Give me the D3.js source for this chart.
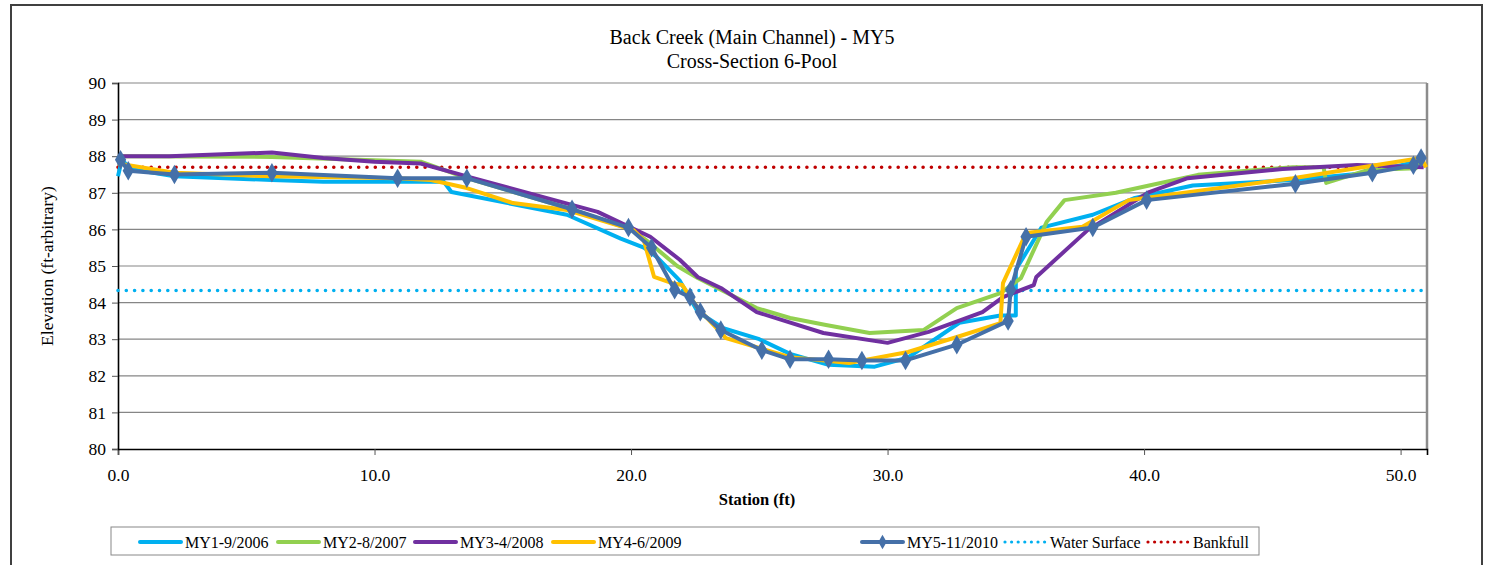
<!DOCTYPE html>
<html lang="en">
<head>
<meta charset="UTF-8">
<title>Back Creek Cross-Section 6</title>
<script src="https://d3js.org/d3.v7.min.js"></script>
<style>
  body { margin: 0; background: #fff; }
</style>
</head>
<body>
<svg id="chart"></svg>
<script>
  // Station (ft) / elevation pairs
  const my1 = [[0,87.45],[0.15,87.9],[0.5,87.65],[2.2,87.45],[6,87.35],[8,87.3],[12.7,87.3],[13.0,87.02],[17.5,86.4],[19.6,85.75],[20.5,85.5],[21.0,85.25],[21.9,84.6],[22.6,83.75],[23.6,83.3],[25.0,83.0],[26.2,82.6],[27.7,82.3],[29.5,82.25],[30.8,82.5],[32.8,83.45],[34.4,83.65],[35.0,83.65],[35.0,84.9],[36.0,86.05],[38.0,86.4],[39.6,86.85],[41.9,87.2],[45.8,87.35],[48.8,87.55],[50.6,87.85]];
  const my2 = [[0,88.0],[6,87.98],[11.8,87.85],[13.6,87.4],[17.7,86.55],[20.0,86.0],[20.6,85.7],[21.8,85.0],[22.6,84.67],[24.9,83.85],[26.2,83.58],[27.6,83.39],[29.3,83.17],[31.4,83.25],[32.7,83.85],[34.4,84.26],[35.2,84.67],[36.2,86.2],[36.9,86.8],[38.9,87.0],[40.2,87.2],[42.1,87.49],[45.8,87.7],[47.0,87.7],[47.1,87.27],[48.7,87.62],[50.6,87.67],[50.8,87.9]];
  const my3 = [[0,88.0],[2,88.0],[6,88.1],[8,87.95],[10,87.85],[11.8,87.8],[13.6,87.45],[18.7,86.48],[20.75,85.8],[21.9,85.17],[22.6,84.7],[23.5,84.4],[24.9,83.74],[27.5,83.17],[30.0,82.9],[31.6,83.2],[33.7,83.74],[34.5,84.15],[35.7,84.48],[35.8,84.7],[37.8,85.98],[40.2,87.02],[41.7,87.4],[45.4,87.65],[48.3,87.76],[50.9,87.7]];
  const my4 = [[0,87.8],[2.2,87.55],[6,87.45],[10.9,87.4],[12.2,87.35],[13.6,87.13],[15.4,86.72],[17.5,86.53],[20.1,85.98],[20.5,85.7],[20.9,84.7],[21.6,84.53],[22.0,84.48],[22.6,83.85],[23.7,83.03],[26.2,82.51],[28.5,82.35],[30.8,82.65],[32.8,83.08],[34.4,83.44],[34.5,84.53],[35.4,85.9],[37.6,86.07],[39.4,86.8],[45.8,87.4],[50.8,87.95],[51.0,87.7]];
  const my5 = [[0.1,87.9],[0.4,87.6],[2.2,87.5],[6.0,87.55],[10.9,87.4],[13.6,87.4],[17.7,86.55],[19.9,86.05],[20.8,85.5],[21.7,84.35],[22.3,84.15],[22.7,83.75],[23.5,83.25],[25.1,82.7],[26.2,82.45],[27.7,82.45],[29.0,82.42],[30.7,82.42],[32.7,82.85],[34.7,83.5],[34.8,84.35],[35.4,85.8],[38.0,86.05],[40.1,86.8],[45.9,87.25],[48.9,87.55],[50.5,87.75],[50.8,87.95]];
  const waterSurface = 84.33;
  const bankfull = 87.7;

  const seriesNames = ["MY1-9/2006", "MY2-8/2007", "MY3-4/2008", "MY4-6/2009", "MY5-11/2010", "Water Surface", "Bankfull"];
  const seriesColors = ["#00b0f0", "#92d050", "#7030a0", "#ffc000", "#4570a8", "#00b0f0", "#c00000"];
  const xTicks = [0, 10, 20, 30, 40, 50];
  const yTicks = [80, 81, 82, 83, 84, 85, 86, 87, 88, 89, 90];

  const serif = "'Liberation Serif'";
  const W = 1486, H = 565;
  const svg = d3.select("#chart").attr("width", W).attr("height", H);

  // outer chart border
  svg.append("rect")
    .attr("x", 11).attr("y", 5).attr("width", 1471).attr("height", 600)
    .attr("fill", "none").attr("stroke", "#404040").attr("stroke-width", 2);

  const plotL = 118, plotR = 1427, plotT = 83, plotB = 449;
  const xMax = 51.03;
  const x = d3.scaleLinear().domain([0, xMax]).range([plotL, plotR]);
  const y = d3.scaleLinear().domain([80, 90]).range([plotB, plotT]);

  // horizontal gridlines
  svg.append("g").selectAll("line").data(yTicks.slice(1)).join("line")
    .attr("x1", plotL).attr("x2", plotR)
    .attr("y1", d => y(d)).attr("y2", d => y(d))
    .attr("stroke", "#868686").attr("stroke-width", 1.2);

  // right border of plot
  svg.append("line")
    .attr("x1", plotR).attr("x2", plotR).attr("y1", plotT).attr("y2", plotB)
    .attr("stroke", "#8c8c8c").attr("stroke-width", 2.5);

  // axes
  const xAxis = svg.append("g")
    .attr("transform", "translate(0," + plotB + ")")
    .call(d3.axisBottom(x).tickValues(xTicks).tickFormat(d3.format(".1f")).tickSize(6).tickPadding(14));
  const yAxis = svg.append("g")
    .attr("transform", "translate(" + plotL + ",0)")
    .call(d3.axisLeft(y).tickValues(yTicks).tickSize(6).tickPadding(6));
  [xAxis, yAxis].forEach(a => {
    a.attr("font-family", serif).attr("font-size", 17.5);
    a.select(".domain").attr("stroke", "#000").attr("stroke-width", 1.6);
    a.selectAll(".tick line").attr("stroke", "#555");
    a.selectAll(".tick text").attr("fill", "#000");
  });

  // reference lines
  const dotted = (val, color) => svg.append("line")
    .attr("x1", x(0)).attr("x2", x(xMax))
    .attr("y1", y(val)).attr("y2", y(val))
    .attr("stroke", color).attr("stroke-width", 3.6)
    .attr("stroke-linecap", "round").attr("stroke-dasharray", "0,8.3");
  dotted(waterSurface, seriesColors[5]);
  dotted(bankfull, seriesColors[6]);

  const line = d3.line().x(d => x(d[0])).y(d => y(d[1]));
  [my1, my2, my3, my4, my5].forEach((s, i) => {
    svg.append("path").datum(s)
      .attr("d", line).attr("fill", "none")
      .attr("stroke", seriesColors[i]).attr("stroke-width", 4)
      .attr("stroke-linejoin", "round");
  });

  const diamond = d3.symbol().type(d3.symbolDiamond).size(110);
  svg.append("g").selectAll("path").data(my5).join("path")
    .attr("transform", d => "translate(" + x(d[0]) + "," + y(d[1]) + ")")
    .attr("d", diamond).attr("fill", seriesColors[4]);

  // titles
  const txt = (tx, ty, size, str) => svg.append("text")
    .attr("x", tx).attr("y", ty).attr("text-anchor", "middle")
    .attr("font-family", serif).attr("font-size", size).attr("fill", "#000").text(str);
  txt(752, 44, 20, "Back Creek (Main Channel) - MY5");
  txt(752, 68, 20, "Cross-Section 6-Pool");
  txt(757, 505, 16.5, "Station (ft)").attr("font-weight", "bold");
  txt(0, 0, 17.5, "Elevation (ft-arbitrary)").attr("transform", "translate(53,266) rotate(-90)");

  // legend
  const lg = svg.append("g");
  lg.append("rect").attr("x", 111).attr("y", 527).attr("width", 1148).attr("height", 28)
    .attr("fill", "#fff").attr("stroke", "#888").attr("stroke-width", 1);
  const legendX = [140, 278, 415, 553, 862, 1005, 1148];
  seriesNames.forEach((name, i) => {
    const lx = legendX[i], ly = 542;
    const ln = lg.append("line").attr("x1", lx).attr("x2", lx + 41).attr("y1", ly).attr("y2", ly)
      .attr("stroke", seriesColors[i]).attr("stroke-linecap", "round");
    if (i >= 5) {
      ln.attr("stroke-width", 3.2).attr("stroke-dasharray", "0,6.6");
    } else {
      ln.attr("stroke-width", 4);
    }
    if (i === 4) {
      lg.append("path").attr("transform", "translate(" + (lx + 20.5) + "," + ly + ")")
        .attr("d", d3.symbol().type(d3.symbolDiamond).size(60)).attr("fill", seriesColors[4]);
    }
    lg.append("text").attr("x", lx + 45).attr("y", ly + 5.5)
      .attr("font-family", serif).attr("font-size", 16).attr("fill", "#000").text(name);
  });
</script>
</body>
</html>
